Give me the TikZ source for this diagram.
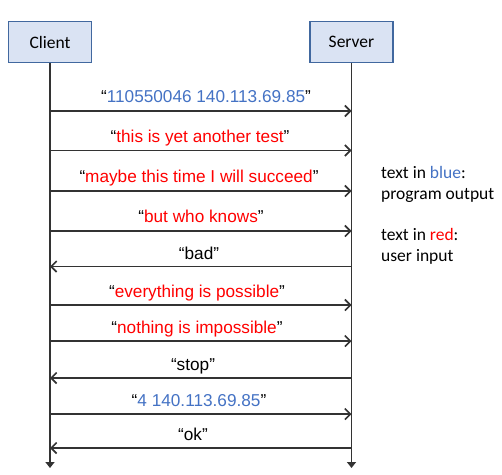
\documentclass[tikz,border=0pt]{standalone}
\usepackage{fontspec}
\setmainfont{Liberation Sans}
\newfontfamily\calfont{Carlito}
\usetikzlibrary{arrows.meta}
\definecolor{pblue}{HTML}{4472C4}
\definecolor{ured}{HTML}{FF0000}
\definecolor{boxfill}{HTML}{DAE3F3}
\definecolor{boxline}{HTML}{41689F}
\definecolor{linegray}{HTML}{333333}
\newcommand{\qt}[2]{“\textcolor{#1}{#2}”}
\begin{document}
\begin{tikzpicture}[x=1pt,y=-1pt,
  actor/.style={draw=boxline, fill=boxfill, line width=1.3pt, minimum width=83pt, minimum height=41pt, font=\calfont\fontsize{17.5}{21}\selectfont, inner sep=0pt},
  lifeline/.style={draw=linegray, line width=1.6pt, -{Triangle[length=6pt,width=9pt]}},
  msg/.style={draw=linegray, line width=1.6pt, -{Straight Barb[length=5.5pt,width=11pt]}},
  lbl/.style={font=\fontsize{17.2}{20}\selectfont, anchor=base, inner sep=0pt},
  note/.style={font=\calfont\fontsize{17.5}{21}\selectfont, anchor=base west, inner sep=0pt}
]
\useasboundingbox (0,0) rectangle (502,474);
\node[actor] (client) at (50,42.2) {Client};
\node[actor] (server) at (351.5,42.2) {Server};
\coordinate (cend) at (50,468);
\coordinate (send) at (351.5,468);
\draw[lifeline] (client.south) -- (cend);
\draw[lifeline] (server.south) -- (send);

% messages
\coordinate (c1) at (50,111);   \coordinate (s1) at (351.5,111);
\coordinate (c2) at (50,150.5); \coordinate (s2) at (351.5,150.5);
\coordinate (c3) at (50,191);   \coordinate (s3) at (351.5,191);
\coordinate (c4) at (50,231);   \coordinate (s4) at (351.5,231);
\coordinate (c5) at (50,266.5); \coordinate (s5) at (351.5,266.5);
\coordinate (c6) at (50,305);   \coordinate (s6) at (351.5,305);
\coordinate (c7) at (50,341);   \coordinate (s7) at (351.5,341);
\coordinate (c8) at (50,378);   \coordinate (s8) at (351.5,378);
\coordinate (c9) at (50,414);   \coordinate (s9) at (351.5,414);
\coordinate (c10) at (50,448);  \coordinate (s10) at (351.5,448);

\draw[msg] (c1) -- (s1);
\draw[msg] (c2) -- (s2);
\draw[msg] (c3) -- (s3);
\draw[msg] (c4) -- (s4);
\draw[msg] (s5) -- (c5);
\draw[msg] (c6) -- (s6);
\draw[msg] (c7) -- (s7);
\draw[msg] (s8) -- (c8);
\draw[msg] (c9) -- (s9);
\draw[msg] (s10) -- (c10);

\node[lbl] (l1) at (206,102) {\qt{pblue}{110550046 140.113.69.85}};
\node[lbl] (l2) at (200,142) {\qt{ured}{this is yet another test}};
\node[lbl] (l3) at (199,182.5) {\qt{ured}{maybe this time I will succeed}};
\node[lbl] (l4) at (201,222.5) {\qt{ured}{but who knows}};
\node[lbl] (l5) at (199,259) {\qt{black}{bad}};
\node[lbl] (l6) at (197,297) {\qt{ured}{everything is possible}};
\node[lbl] (l7) at (197,333) {\qt{ured}{nothing is impossible}};
\node[lbl] (l8) at (193,370) {\qt{black}{stop}};
\node[lbl] (l9) at (199,406) {\qt{pblue}{4 140.113.69.85}};
\node[lbl] (l10) at (193,440) {\qt{black}{ok}};

% legend
\node[note] (n1) at (381,178) {text in \textcolor{pblue}{blue}:};
\node[note] (n2) at (381,199) {program output};
\node[note] (n3) at (381,240) {text in \textcolor{ured}{red}:};
\node[note] (n4) at (381,261) {user input};
\end{tikzpicture}
\end{document}
